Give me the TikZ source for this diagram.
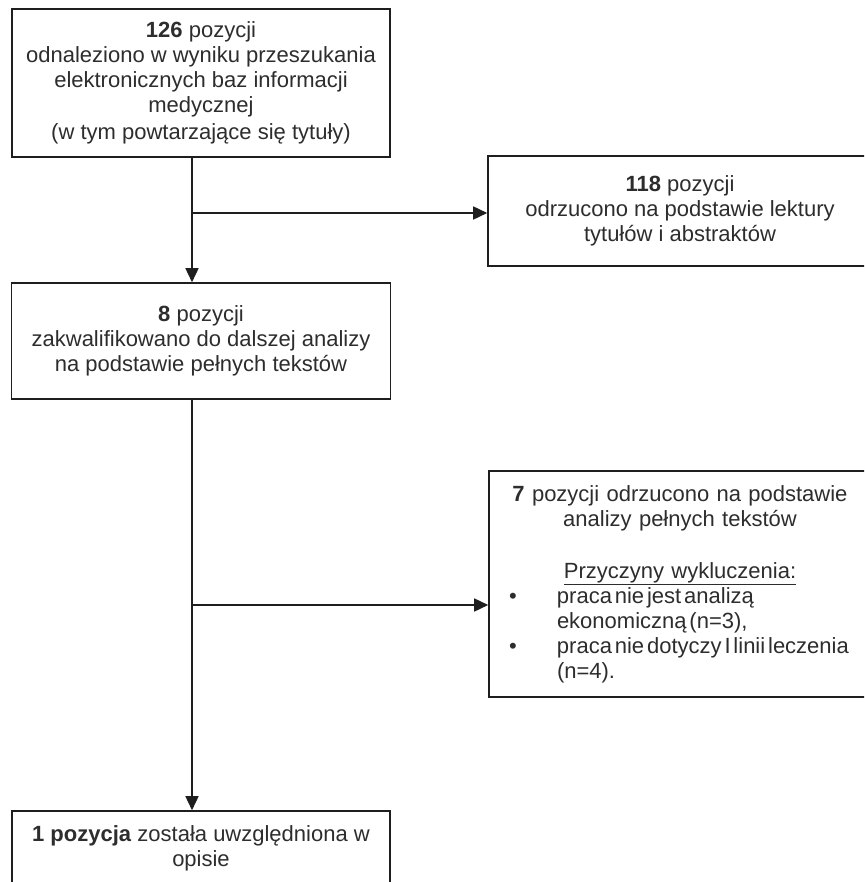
\documentclass[tikz,border=0pt]{standalone}
\usepackage{fontspec}
\setmainfont{Liberation Sans}
\usetikzlibrary{arrows.meta}
\definecolor{lineGray}{RGB}{30,30,30}
\definecolor{textGray}{RGB}{45,45,45}
\tikzset{
  flowBox/.style={draw=lineGray,line width=1.6pt,fill=white,text=textGray,align=center,inner sep=6pt,font=\fontsize{22}{25}\selectfont},
  flowArrow/.style={draw=lineGray,line width=1.6pt,-{Triangle[length=14pt,width=13pt]}}
}
\newcommand{\bulletLine}[1]{\makebox[\linewidth][l]{\spaceskip=0.13em\relax\makebox[62pt][l]{\hspace*{14pt}\textbullet}#1}}
\newcommand{\restLine}[1]{\makebox[\linewidth][l]{\spaceskip=0.13em\relax\hspace*{62pt}#1}}

\begin{document}
\begin{tikzpicture}[x=1pt,y=-1pt]
      \useasboundingbox (0,0) rectangle (864,882);
      \clip (0,0) rectangle (864,882);
      \fill[white] (0,0) rectangle (864,882);

      % Boxes
      \node[flowBox,minimum width=378pt,minimum height=148pt] (found) at (201,83) {
        \textbf{126} pozycji\\
        odnaleziono w wyniku przeszukania\\
        elektronicznych baz informacji\\
        medycznej\\[2pt]
        (w tym powtarzające się tytuły)
      };
      \node[flowBox,minimum width=384pt,minimum height=110pt] (rejected) at (680,211) {
        \textbf{118} pozycji\\
        odrzucono na podstawie lektury\\
        tytułów i abstraktów
      };
      \node[flowBox,minimum width=379pt,minimum height=116pt] (selected) at (201,341) {
        \textbf{8} pozycji\\
        zakwalifikowano do dalszej analizy\\
        na podstawie pełnych tekstów
      };
      \node[flowBox,minimum width=382pt,minimum height=226pt,text width=370pt] (excluded) at (680,584) {
        \textbf{7} pozycji odrzucono na podstawie\\
        analizy pełnych tekstów\\[27pt]
        \underline{Przyczyny wykluczenia:}\\
        \bulletLine{praca nie jest analizą}\\
        \restLine{ekonomiczną (n=3),}\\
        \bulletLine{praca nie dotyczy I linii leczenia}\\
        \restLine{(n=4).}
      };
      \node[flowBox,minimum width=378pt,minimum height=74pt] (included) at (201,848) {
        \textbf{1 pozycja} została uwzględniona w\\
        opisie
      };

      % Arrows
      \coordinate (splitA) at (192,213);
      \coordinate (splitB) at (192,605);
      \draw[flowArrow] (found.south -| splitA) -- (selected.north -| splitA);
      \draw[flowArrow] (splitA) -- (splitA -| rejected.west);
      \draw[flowArrow] (selected.south -| splitB) -- (included.north -| splitB);
      \draw[flowArrow] (splitB) -- (splitB -| excluded.west);
    \end{tikzpicture}
\end{document}
